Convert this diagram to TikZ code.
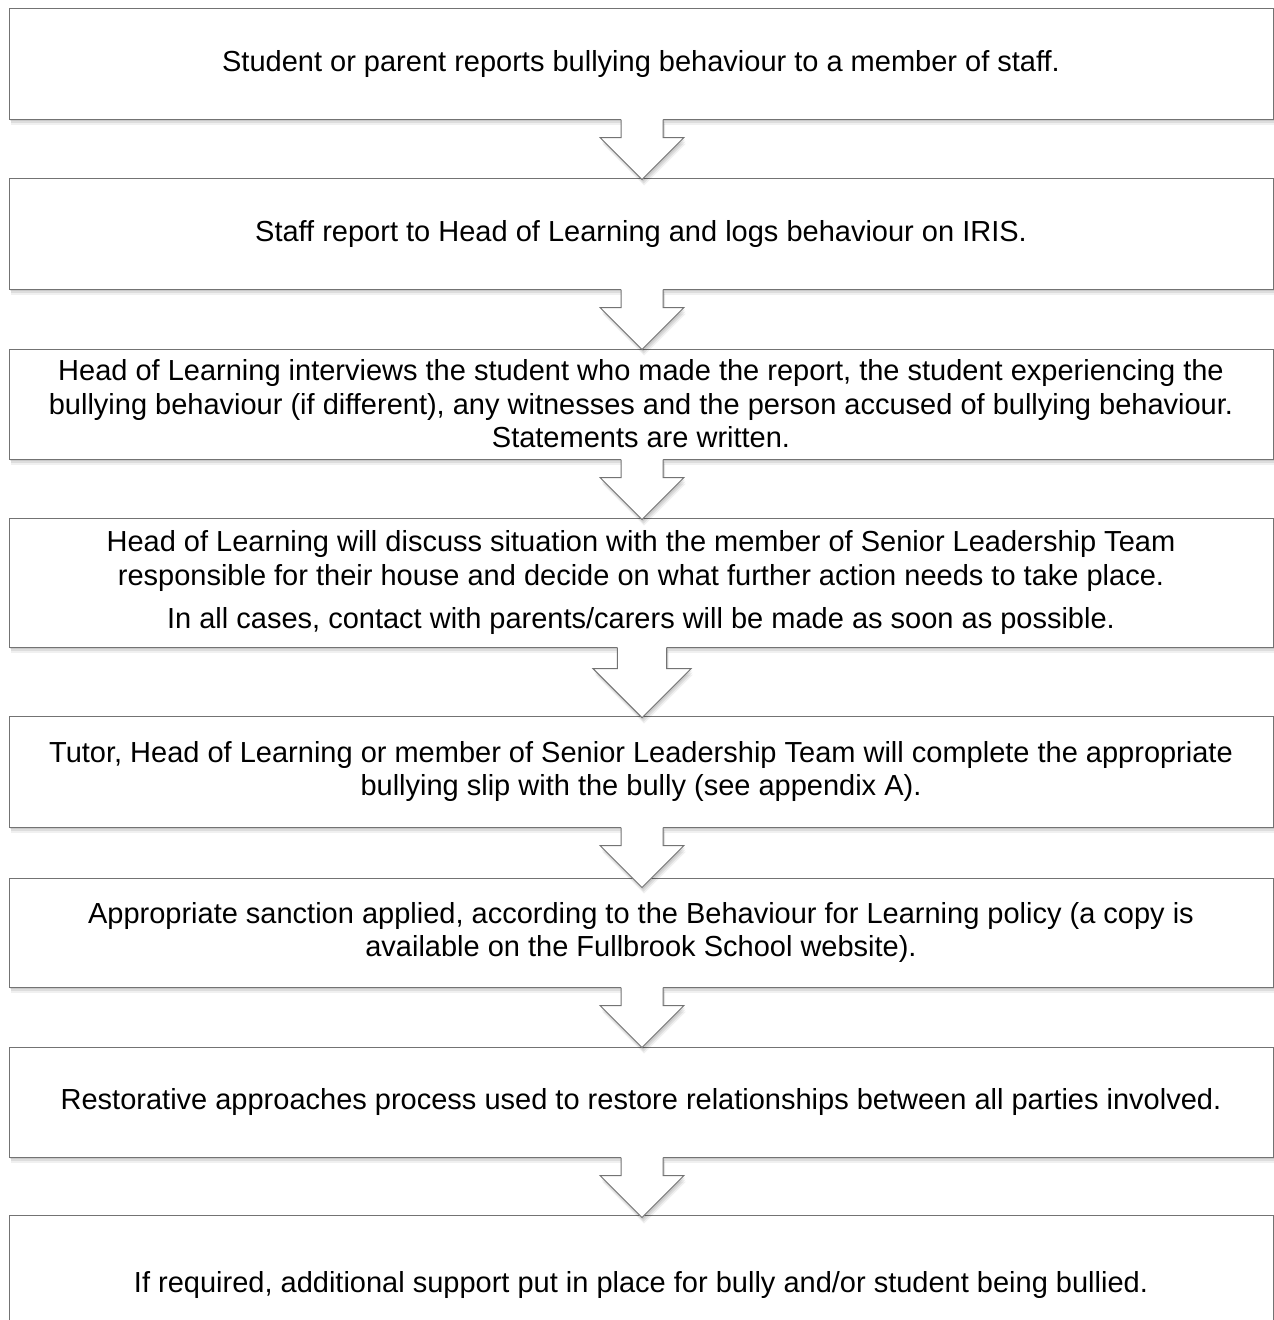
\documentclass[tikz,border=0pt]{standalone}
\usepackage{fontspec}
\setmainfont{Liberation Sans}
\usetikzlibrary{shadows}
\definecolor{edgegray}{RGB}{115,115,115}
\tikzset{
  softshadow/.style={
    general shadow={fill=black, opacity=.09, shadow xshift=1pt, shadow yshift=-2pt},
    general shadow={fill=black, opacity=.08, shadow xshift=1.5pt, shadow yshift=-4pt},
    general shadow={fill=black, opacity=.06, shadow xshift=2pt, shadow yshift=-6pt}},
  boxline/.style={draw=edgegray, line width=1pt},
  stepbox/.style={boxline, fill=white, softshadow, minimum width=1264pt, inner sep=0pt,
    align=center, font=\fontsize{29}{33.5}\selectfont},
}
\newcommand{\flowarrow}[2]{%
  \begin{scope}[shift={(#1.south)}, xshift=1pt, scale=#2]
    \fill[white, softshadow] (-21,-2) -- (-21,18) -- (-42,18) -- (0,60) -- (42,18) -- (21,18) -- (21,-2) -- cycle;
    \draw[boxline, line join=miter] (-21,0) -- (-21,18) -- (-42,18) -- (0,60) -- (42,18) -- (21,18) -- (21,0);
  \end{scope}}
\begin{document}
\begin{tikzpicture}[x=1pt, y=-1pt]
\useasboundingbox (0,0) rectangle (1274,1320);
\node[stepbox, minimum height=111pt] (b1) at (641,63.5)
  {Student or parent reports bullying behaviour to a member of staff.};
\node[stepbox, minimum height=111pt] (b2) at (641,233.5)
  {Staff report to Head of Learning and logs behaviour on IRIS.};
\node[stepbox, minimum height=110pt] (b3) at (641,404)
  {Head of Learning interviews the student who made the report, the student experiencing the\\
   bullying behaviour (if different), any witnesses and the person accused of bullying behaviour.\\
   Statements are written.};
\node[stepbox, minimum height=129pt] (b4) at (641,582.5)
  {Head of Learning will discuss situation with the member of Senior Leadership Team\\
   responsible for their house and decide on what further action needs to take place.\\[10pt]
   In all cases, contact with parents/carers will be made as soon as possible.};
\node[stepbox, minimum height=111pt] (b5) at (641,771.5)
  {Tutor, Head of Learning or member of Senior Leadership Team will complete the appropriate\\
   bullying slip with the bully (see appendix A).};
\node[stepbox, minimum height=109pt] (b6) at (641,932.5)
  {Appropriate sanction applied, according to the Behaviour for Learning policy (a copy is\\
   available on the Fullbrook School website).};
\node[stepbox, minimum height=110pt] (b7) at (641,1102)
  {Restorative approaches process used to restore relationships between all parties involved.};
\node[stepbox, minimum height=140pt] (b8) at (641,1285)
  {If required, additional support put in place for bully and/or student being bullied.};
\flowarrow{b1}{1}
\flowarrow{b2}{1}
\flowarrow{b3}{1}
\flowarrow{b4}{1.17}
\flowarrow{b5}{1}
\flowarrow{b6}{1}
\flowarrow{b7}{1}
\end{tikzpicture}
\end{document}
